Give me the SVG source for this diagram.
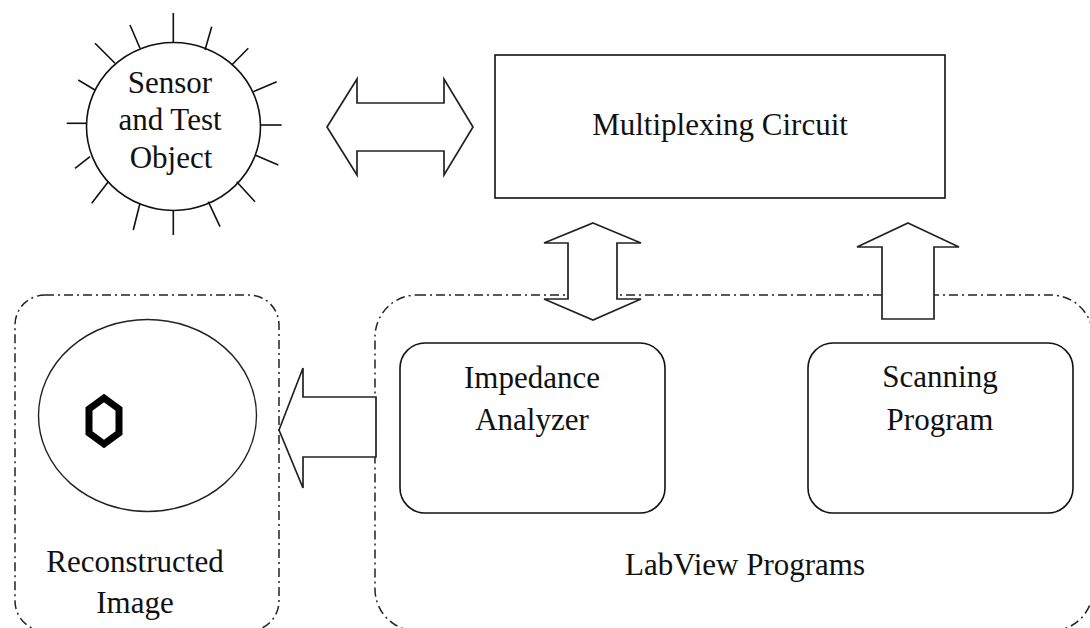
<svg xmlns="http://www.w3.org/2000/svg" width="1090" height="628" viewBox="0 0 1090 628">
  <style>
    .lbl { font-family: "Liberation Serif", "Times New Roman", serif; font-size: 31px; fill: #111; text-anchor: middle; }
    .box { fill: #fff; stroke: #111; stroke-width: 1.6; }
    .group { fill: none; stroke: #222; stroke-width: 1.5; stroke-dasharray: 9 4 2 4; }
    .arrow { fill: #fff; stroke: #222; stroke-width: 1.7; stroke-linejoin: miter; }
    .tick { stroke: #111; stroke-width: 1.6; }
  </style>
  <rect width="1090" height="628" fill="#fff"/>

  <!-- dash-dot grouping frames -->
  <g id="reconstructed-image">
    <rect class="group" x="15" y="295" width="264" height="336" rx="30"/>
    <ellipse cx="147.5" cy="415.5" rx="109" ry="96" fill="none" stroke="#222" stroke-width="1.4"/>
    <polygon points="104,398 119,409 119,433 104,444 89,433 89,409" fill="none" stroke="#000" stroke-width="7" stroke-linejoin="miter"/>
    <text class="lbl" x="135" y="572">Reconstructed</text>
    <text class="lbl" x="135" y="613">Image</text>
  </g>

  <g id="labview-programs">
    <rect class="group" x="375" y="295" width="718" height="336" rx="42"/>
    <text class="lbl" x="745" y="575">LabView Programs</text>
  </g>

  <g id="impedance-analyzer">
    <rect class="box" x="400" y="343" width="265" height="170" rx="25"/>
    <text class="lbl" x="532" y="388">Impedance</text>
    <text class="lbl" x="532" y="430">Analyzer</text>
  </g>

  <g id="scanning-program">
    <rect class="box" x="808" y="343" width="265" height="170" rx="25"/>
    <text class="lbl" x="940" y="387">Scanning</text>
    <text class="lbl" x="940" y="430">Program</text>
  </g>

  <g id="multiplexing-circuit">
    <rect class="box" x="495" y="55" width="450" height="143" stroke-width="2"/>
    <text class="lbl" x="720" y="135">Multiplexing Circuit</text>
  </g>

  <g id="sensor">
    <ellipse cx="173.5" cy="126.5" rx="87" ry="84" fill="#fff" stroke="#111" stroke-width="1.6"/>
    <g class="tick">
      <line x1="173.3" y1="13" x2="173.3" y2="43"/>
      <line x1="211.7" y1="26.7" x2="205" y2="50"/>
      <line x1="248.3" y1="48.3" x2="231.7" y2="65"/>
      <line x1="276.7" y1="81.7" x2="253.3" y2="91.7"/>
      <line x1="281.7" y1="125" x2="260" y2="125"/>
      <line x1="278.3" y1="165" x2="255" y2="155"/>
      <line x1="255" y1="201.7" x2="236.7" y2="181.7"/>
      <line x1="220" y1="226.7" x2="208.3" y2="201.7"/>
      <line x1="173.3" y1="235" x2="173.3" y2="210"/>
      <line x1="133.3" y1="230" x2="140" y2="203.3"/>
      <line x1="91.7" y1="203.3" x2="108.3" y2="181.7"/>
      <line x1="75" y1="168.3" x2="90" y2="156.7"/>
      <line x1="66.7" y1="123.3" x2="86.7" y2="123.3"/>
      <line x1="78.3" y1="80" x2="95" y2="90"/>
      <line x1="95" y1="43.3" x2="115" y2="63.3"/>
      <line x1="130" y1="25" x2="140" y2="48.3"/>
    </g>
    <text class="lbl" x="170" y="93">Sensor</text>
    <text class="lbl" x="170" y="130">and Test</text>
    <text class="lbl" x="171" y="168">Object</text>
  </g>

  <!-- block arrows between the parts -->
  <g id="connectors">
    <polygon class="arrow" points="327,127 357,79 357,103 444,103 444,79 473,127 444,175 444,151 357,151 357,175"/>
    <polygon class="arrow" points="593,223 641,243 617,243 617,299 641,299 593,320 544,299 568,299 568,243 544,243"/>
    <polygon class="arrow" points="908,223 959,247 934,247 934,319 882,319 882,247 857,247"/>
    <polygon class="arrow" points="279,430 303,368 303,397 376,397 376,457 303,457 303,488"/>
  </g>
</svg>
